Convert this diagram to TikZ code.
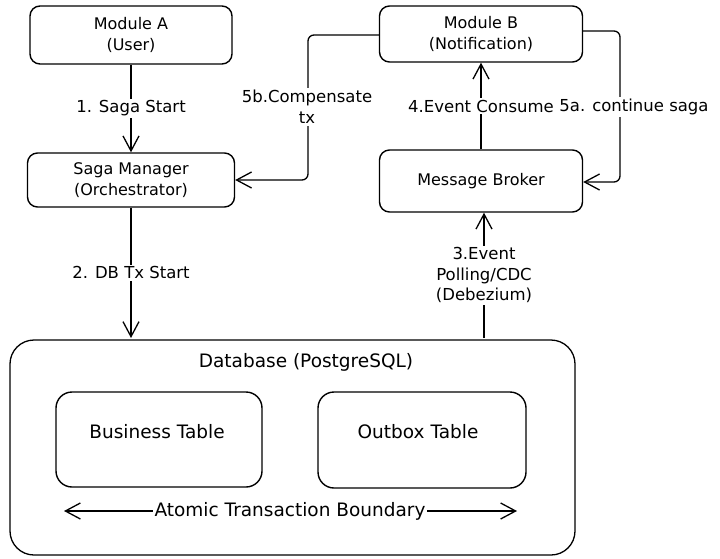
\documentclass[tikz,border=0pt]{standalone}
\usepackage{fontspec}
\setmainfont{DejaVu Sans}
\usetikzlibrary{arrows.meta}
\tikzset{
  box/.style={draw, line width=1.4pt, rounded corners=10pt, align=center, font=\fontsize{16}{21}\selectfont},
  bigbox/.style={draw, line width=1.3pt, rounded corners=24pt},
  dbtxt/.style={font=\fontsize{18.5}{22}\selectfont},
  lbl/.style={fill=white, inner sep=2pt, align=center, font=\fontsize{16.5}{20.5}\selectfont},
  tip/.style={Straight Barb[length=15pt,width=16pt,line width=1.3pt]},
  conn/.style={line width=1.3pt, -{Straight Barb[length=15pt,width=16pt,line width=1.3pt]}},
  both/.style={line width=1.3pt, {Straight Barb[length=15pt,width=16pt,line width=1.3pt]}-{Straight Barb[length=15pt,width=16pt,line width=1.3pt]}},
}
\begin{document}
\begin{tikzpicture}[x=1pt,y=-1pt]
\useasboundingbox (0,0) rectangle (720,558);
% boxes
\node[box, minimum width=202pt, minimum height=58pt] (A) at (131,35) {Module A\\(User)};
\node[box, minimum width=207pt, minimum height=54pt] (S) at (131,180) {Saga Manager\\(Orchestrator)};
\node[box, minimum width=203pt, minimum height=56pt] (B) at (481,34) {Module B\\(Notification)};
\node[box, minimum width=203pt, minimum height=62pt] (M) at (481,181) {Message Broker};
\node[bigbox, minimum width=565pt, minimum height=215pt] (D) at (292.5,447.5) {};
\node[dbtxt] (DT) at (306,362) {Database (PostgreSQL)};
\node[box, rounded corners=16pt, minimum width=206pt, minimum height=95pt] (BT) at (159,439.5) {};
\node[dbtxt] (BTt) at (157,432) {Business Table};
\node[box, rounded corners=16pt, minimum width=208pt, minimum height=96pt] (OT) at (422,440) {};
\node[dbtxt] (OTt) at (418,432) {Outbox Table};
\coordinate (al) at (64,511);
\coordinate (ar) at (517,511);
\draw[both] (al) -- (ar);
\node[lbl, dbtxt] (AT) at (290,511) {Atomic Transaction Boundary};
% connectors
\draw[conn] (A.south) -- (S.north) node[lbl, midway] {1. Saga Start};
\coordinate (d2) at (131,338);
\draw[conn] (S.south) -- (d2) node[lbl, pos=0.5] {2. DB Tx Start};
\coordinate (d3) at (484,338);
\draw[conn] (d3) -- (d3 |- M.south) node[lbl, pos=0.5] {3.Event\\Polling/CDC\\(Debezium)};
\draw[conn] (M.north) -- (B.south) node[lbl, midway] {4.Event Consume};
\draw[conn, rounded corners=6pt] (B.east |- 0,31) -- (620,31) -- (620,182) -- (M.east |- 0,182);
\node[lbl] (L5a) at (634,107) {5a. continue saga};
\draw[conn, rounded corners=6pt] (B.west |- 0,35) -- (308,35) -- (308,180) -- (S.east);
\node[lbl, font=\fontsize{16.5}{21}\selectfont] (L5b) at (307,107) {5b.Compensate\\tx};
\end{tikzpicture}
\end{document}
